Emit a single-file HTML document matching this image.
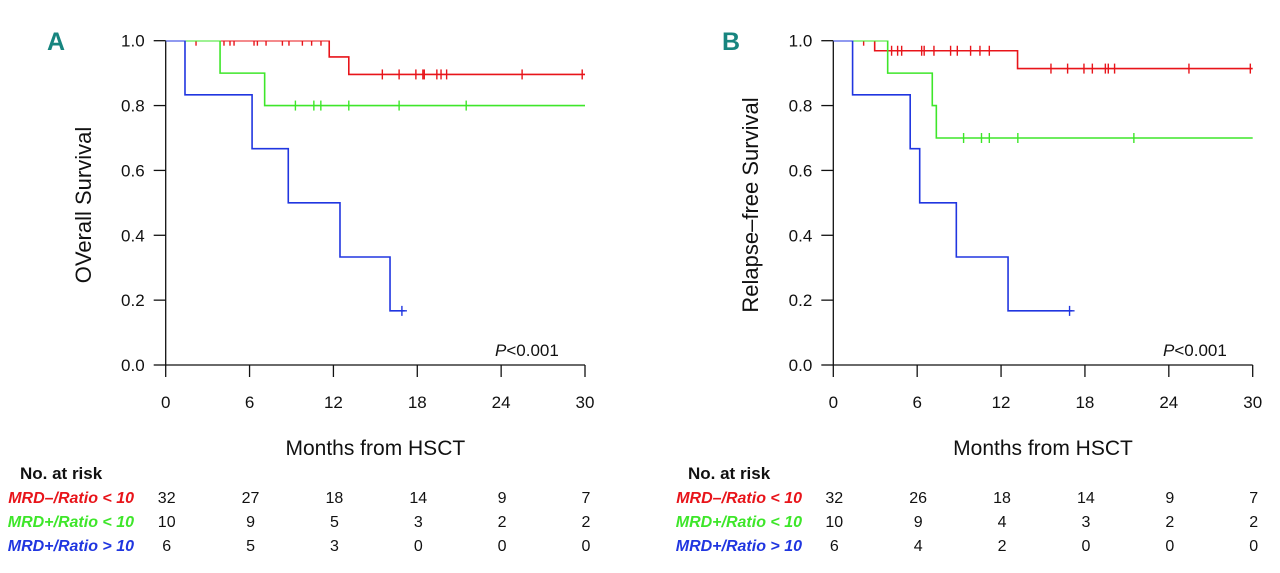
<!DOCTYPE html>
<html><head><meta charset="utf-8"><style>
html,body{margin:0;padding:0;background:#fff;}
svg{display:block;font-family:"Liberation Sans",Arial,sans-serif;}
</style></head><body>
<svg id="fig" width="1280" height="573" viewBox="0 0 1280 573" xmlns="http://www.w3.org/2000/svg">
<defs>
<clipPath id="clipA"><rect x="160" y="40.5" width="440" height="340"/></clipPath>
<clipPath id="clipB"><rect x="828" y="40.5" width="440" height="340"/></clipPath>
</defs>
</svg>
<script>
// ---- Data ----
const xTicks = [0, 6, 12, 18, 24, 30];
const yTicks = [0.0, 0.2, 0.4, 0.6, 0.8, 1.0];
const groupNames = ["MRD\u2013/Ratio < 10", "MRD+/Ratio < 10", "MRD+/Ratio > 10"];
const groupColors = ["#e8141a", "#3ee62a", "#2036e0"];

// Panel A: Overall survival — step times and survival values
const aRedTimes = [0, 11.7, 13.1, 30];
const aRedSurv = [1.0, 0.95, 0.896, 0.896];
const aRedCensor = [2.17, 4.17, 4.6, 4.89, 6.32, 6.56, 7.18, 8.35, 8.82, 9.78, 10.44, 11.11, 15.5, 16.7, 17.9, 18.4, 18.5, 19.4, 19.7, 20.1, 25.5, 29.8];
const aGreenTimes = [0, 3.89, 7.08, 30];
const aGreenSurv = [1.0, 0.9, 0.8, 0.8];
const aGreenCensor = [9.28, 10.6, 11.1, 13.1, 16.7, 21.5];
const aBlueTimes = [0, 1.38, 6.18, 8.77, 12.47, 16.05, 17.1];
const aBlueSurv = [1.0, 0.833, 0.667, 0.5, 0.333, 0.167, 0.167];
const aBlueCensor = [16.9];
const aRisk = [[32, 27, 18, 14, 9, 7], [10, 9, 5, 3, 2, 2], [6, 5, 3, 0, 0, 0]];

// Panel B: Relapse-free survival
const bRedTimes = [0, 2.96, 13.18, 30];
const bRedSurv = [1.0, 0.969, 0.914, 0.914];
const bRedCensor = [2.17, 4.17, 4.6, 4.89, 6.32, 6.5, 7.2, 8.39, 8.87, 9.82, 10.49, 11.16, 15.57, 16.76, 17.93, 18.53, 19.46, 19.67, 20.12, 25.44, 29.83];
const bGreenTimes = [0, 3.89, 7.08, 7.37, 30];
const bGreenSurv = [1.0, 0.9, 0.8, 0.7, 0.7];
const bGreenCensor = [9.32, 10.6, 11.16, 13.2, 21.5];
const bBlueTimes = [0, 1.38, 5.5, 6.18, 8.8, 12.5, 17.1];
const bBlueSurv = [1.0, 0.833, 0.667, 0.5, 0.333, 0.167, 0.167];
const bBlueCensor = [16.9];
const bRisk = [[32, 26, 18, 14, 9, 7], [10, 9, 4, 3, 2, 2], [6, 4, 2, 0, 0, 0]];

const NS = "http://www.w3.org/2000/svg";
const svg = document.getElementById("fig");
function mk(tag, attrs, parent) {
  const e = document.createElementNS(NS, tag);
  for (const k in attrs) e.setAttribute(k, attrs[k]);
  (parent || svg).appendChild(e);
  return e;
}

function drawPanel(p) {
  const g = mk("g", {});
  
  
  const X = t => p.x0 + (t / 30) * (p.x1 - p.x0);
  const Y = v => p.y0 + (1 - v) * (p.y1 - p.y0);
  const ax = mk("path", {d: `M${p.x0},${Y(1)} V${Y(0)} H${X(30)}`, fill: "none", stroke: "#111", "stroke-width": 1.3}, g);
  
  
  yTicks.forEach(v => {
    mk("line", {x1: p.x0 - 12, x2: p.x0, y1: Y(v), y2: Y(v), stroke: "#111", "stroke-width": 1.3}, g);
    const t = mk("text", {x: p.x0 - 21, y: Y(v) + 6, "text-anchor": "end", "font-size": 17, fill: "#111"}, g);
    t.textContent = v.toFixed(1);
    
    
  });
  xTicks.forEach(v => {
    mk("line", {x1: X(v), x2: X(v), y1: Y(0), y2: Y(0) + 12, stroke: "#111", "stroke-width": 1.3}, g);
    const t = mk("text", {x: X(v), y: 408, "text-anchor": "middle", "font-size": 17, fill: "#111"}, g);
    t.textContent = v;
    
    
  });
  const xt = mk("text", {x: (p.x0 + p.x1) / 2, y: 455, "text-anchor": "middle", "font-size": 21, fill: "#111"}, g);
  xt.textContent = "Months from HSCT";
  
  
  const yt = mk("text", {x: 0, y: 0, "text-anchor": "middle", "font-size": 22, fill: "#111", transform: `translate(${p.ytx},205) rotate(-90)`}, g);
  yt.textContent = p.ytitle;
  
  
  const lt = mk("text", {x: p.lx, y: 50, "font-size": 25, "font-weight": "bold", fill: "#17857f"}, g);
  lt.textContent = p.key.toUpperCase();
  
  
  const pv = mk("text", {x: p.px, y: 356, "font-size": 17, fill: "#111"}, g);
  pv.innerHTML = '<tspan font-style="italic">P</tspan>&lt;0.001';
  
  
  const cg = mk("g", {"clip-path": `url(#${p.clip})`}, g);
  p.series.forEach((s, i) => {
    let d = `M${X(s.t[0])},${Y(s.s[0])}`;
    for (let k = 1; k < s.t.length; k++) {
      d += ` H${X(s.t[k])} V${Y(s.s[k])}`;
    }
    const path = mk("path", {d: d, fill: "none", stroke: groupColors[i], "stroke-width": 1.6}, cg);
    
    
    s.c.forEach(ct => {
      let sv = s.s[0];
      for (let k = 0; k < s.t.length; k++) if (s.t[k] <= ct) sv = s.s[k];
      const m = mk("path", {d: `M${X(ct)},${Y(sv) - 5} V${Y(sv) + 5}` + (i === 2 ? ` M${X(ct) - 5},${Y(sv)} H${X(ct) + 5}` : ''), stroke: groupColors[i], "stroke-width": 1.4, fill: "none"}, cg);
      
      
    });
  });
  const nr = mk("text", {x: p.nrx, y: 479, "font-size": 17, "font-weight": "bold", fill: "#111"}, g);
  nr.textContent = "No. at risk";
  
  
  const rowY = [503, 527, 551];
  groupNames.forEach((nm, i) => {
    const l = mk("text", {x: p.rlx, y: rowY[i], "font-size": 16, "font-weight": "bold", "font-style": "italic", fill: groupColors[i], "text-anchor": "end"}, g);
    l.textContent = nm;
    
    
    p.risk[i].forEach((n, j) => {
      const t = mk("text", {x: X(xTicks[j]) + 1, y: rowY[i], "font-size": 16, "text-anchor": "middle", fill: "#111"}, g);
      t.textContent = n;
      
      
    });
  });
}

drawPanel({key: "a", x0: 165.7, x1: 585, y0: 40.7, y1: 365, clip: "clipA", ytitle: "OVerall Survival", ytx: 91, lx: 47, px: 495, nrx: 20, rlx: 134,
  series: [{t: aRedTimes, s: aRedSurv, c: aRedCensor}, {t: aGreenTimes, s: aGreenSurv, c: aGreenCensor}, {t: aBlueTimes, s: aBlueSurv, c: aBlueCensor}], risk: aRisk});
drawPanel({key: "b", x0: 833.3, x1: 1252.7, y0: 40.7, y1: 365, clip: "clipB", ytitle: "Relapse\u2013free Survival", ytx: 758, lx: 722, px: 1163, nrx: 688, rlx: 802,
  series: [{t: bRedTimes, s: bRedSurv, c: bRedCensor}, {t: bGreenTimes, s: bGreenSurv, c: bGreenCensor}, {t: bBlueTimes, s: bBlueSurv, c: bBlueCensor}], risk: bRisk});
</script>
</body></html>
